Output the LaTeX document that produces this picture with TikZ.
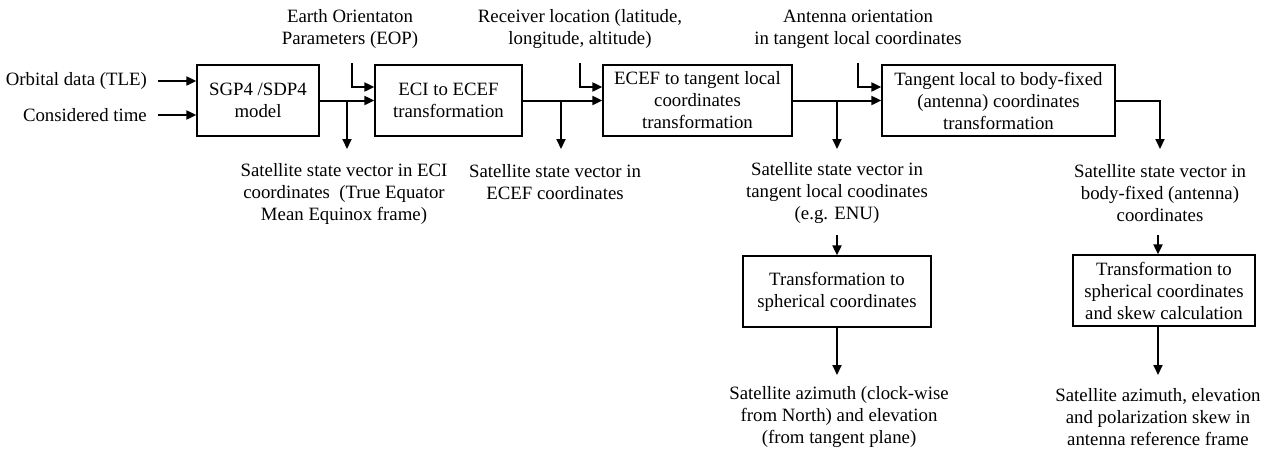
\documentclass[tikz,border=0pt]{standalone}
\usepackage{fontspec}
\setmainfont{Liberation Serif}
\usetikzlibrary{arrows.meta}
\begin{document}
\begin{tikzpicture}[x=1pt,y=-1pt,
  every node/.style={font=\fontsize{18.8}{22}\selectfont},
  block/.style={draw, line width=1.3pt, align=center, inner sep=0pt, minimum height=71pt},
  lbl/.style={align=center, inner sep=0pt},
  arr/.style={line width=2pt, -{Triangle[length=10pt,width=9pt]}}]
\useasboundingbox (0,0) rectangle (1270,448);

% processing blocks
\node[block, minimum width=122pt] (sgp)  at (258,100.5)  {SGP4 /SDP4\\model};
\node[block, minimum width=147pt] (eci)  at (448.5,100.5) {ECI to ECEF\\transformation};
\node[block, minimum width=189pt] (ecef) at (697.5,100.5) {ECEF to tangent local\\coordinates\\transformation};
\node[block, minimum width=233pt] (tan)  at (998.5,100.5) {Tangent local to body-fixed\\(antenna) coordinates\\transformation};
\node[block, minimum width=188pt] (sph1) at (837,291.5)  {Transformation to\\spherical coordinates};
\node[block, minimum width=182pt] (sph2) at (1164,290.5) {Transformation to\\spherical coordinates\\and skew calculation};

% inputs
\node[lbl, anchor=east] (orb)  at (147,81)  {Orbital data (TLE)};
\node[lbl, anchor=east] (time) at (147,115) {Considered time};
\node[lbl] (eop) at (350,29) {Earth Orientaton\\Parameters (EOP)};
\node[lbl] (rcv) at (580,29) {Receiver location (latitude,\\longitude, altitude)};
\node[lbl] (ant) at (858,29) {Antenna orientation\\in tangent local coordinates};

% outputs
\node[lbl] (o1) at (344,193.5) {Satellite state vector in ECI\\coordinates~ (True Equator\\Mean Equinox frame)};
\node[lbl] (o2) at (555,182) {Satellite state vector in\\ECEF coordinates};
\node[lbl] (o3) at (837,193.5) {Satellite state vector in\\tangent local coodinates\\(e.g. ENU)};
\node[lbl] (o4) at (1160,193.5) {Satellite state vector in\\body-fixed (antenna)\\coordinates};
\node[lbl] (o5) at (839,417) {Satellite azimuth (clock-wise\\from North) and elevation\\(from tangent plane)};
\node[lbl] (o6) at (1158,417) {Satellite azimuth, elevation\\and polarization skew in\\antenna reference frame};

% branch points and arrow ends
\coordinate (e1) at (352,63);
\coordinate (e2) at (580,63);
\coordinate (e3) at (858,63);
\coordinate (b1) at (347,100.5);
\coordinate (t1) at (347,149);
\coordinate (b2) at (561,100.5);
\coordinate (t2) at (561,149);
\coordinate (b3) at (837,100.5);
\coordinate (t3) at (837,149);
\coordinate (t4) at (1160,149);
\coordinate (s1) at (837,235);
\coordinate (s2) at (1158,235);
\coordinate (r1) at (837,375);
\coordinate (r2) at (1158,375);

% main chain
\draw[arr] ([xshift=11pt]orb.east) -- (orb.east -| sgp.west);
\draw[arr] ([xshift=11pt]time.east) -- (time.east -| sgp.west);
\draw[arr] (sgp.east) -- (eci.west);
\draw[arr] (eci.east) -- (ecef.west);
\draw[arr] (ecef.east) -- (tan.west);
\draw[arr] (tan.east) -| (t4);

% auxiliary inputs
\draw[arr] (e1) |- ([yshift=13.5pt]eci.west);
\draw[arr] (e2) |- ([yshift=13.5pt]ecef.west);
\draw[arr] (e3) |- ([yshift=13.5pt]tan.west);

% taps
\draw[arr] (b1) -- (t1);
\draw[arr] (b2) -- (t2);
\draw[arr] (b3) -- (t3);

% spherical conversions
\draw[arr] (s1) -- (s1 |- sph1.north);
\draw[arr] (s2) -- (s2 |- sph2.north);
\draw[arr] (sph1.south) -- (r1);
\draw[arr] (r2 |- sph2.south) -- (r2);
\end{tikzpicture}
\end{document}
